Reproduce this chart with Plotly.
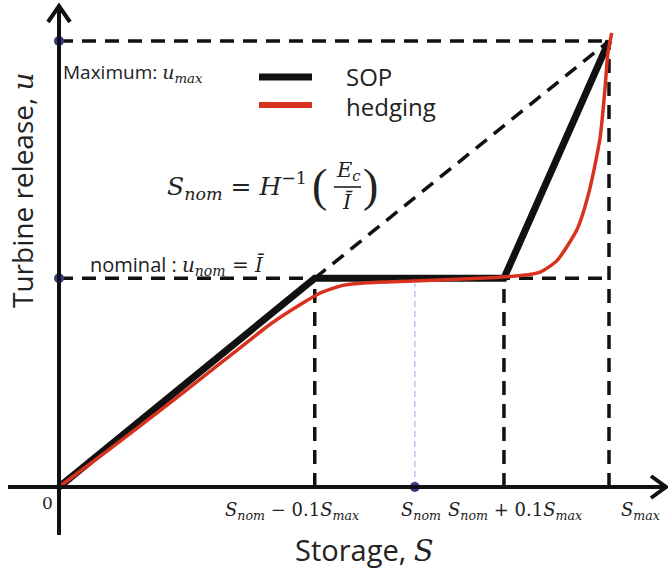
import plotly.graph_objects as go

# ---- data (storage S as fraction of S_max, release u as fraction of u_max) ----
S_max = 1.0
u_max = 1.0
u_nom = 0.468
S_lo = 0.465      # S_nom - 0.1 S_max
S_nom = 0.647
S_hi = 0.809      # S_nom + 0.1 S_max

# standard operating policy (piecewise linear)
sop_S = [0.0, S_lo, S_hi, S_max]
sop_u = [0.0, u_nom, u_nom, u_max]

# hedging policy (smooth curve)
hedge_S = [0.0, 0.10, 0.20, 0.262, 0.324, 0.384, 0.444, 0.475, 0.516, 0.560, 0.644,
           0.784, 0.840, 0.875, 0.905, 0.942, 0.965, 0.984, 0.993, 0.998, 1.005]
hedge_u = [0.0, 0.092, 0.187, 0.247, 0.307, 0.365, 0.413, 0.435, 0.452, 0.458, 0.462,
           0.469, 0.474, 0.482, 0.507, 0.578, 0.668, 0.785, 0.897, 0.973, 1.018]

# highlighted axis points
dot_S = [0.0, 0.0, S_nom]
dot_u = [u_max, u_nom, 0.0]

W, H = 668, 577
X0, Y0 = 59, 487          # origin in pixels
SX, SY = 550, 446         # pixels per unit

xr = [-X0 / SX, (W - X0) / SX]
yr = [-(H - Y0) / SY, Y0 / SY]

SANS = "Open Sans, Lato, sans-serif"
MATH = "DejaVu Serif"
BLACK = "#111111"
RED = "#d8321e"
NAVY = "#383a86"


def P(x, y):
    return dict(x=x / W, y=1 - y / H, xref="paper", yref="paper")


def var(name, s=None):
    body = f"<i>{name}</i>" + (f"<sub><i>{s}</i></sub>" if s else "")
    return f"<span style='font-family:{MATH}'>{body}</span>"


tick_S = [S_lo, S_nom, S_hi, S_max]
tick_labels = [
    var("S", "nom") + " − 0.1" + var("S", "max"),
    var("S", "nom"),
    var("S", "nom") + " + 0.1" + var("S", "max"),
    var("S", "max"),
]
tick_offsets = [-23, 6, 11, 31]   # horizontal label nudges, px

fig = go.Figure()

fig.add_trace(go.Scatter(x=sop_S, y=sop_u, mode="lines",
                         line=dict(color=BLACK, width=7), showlegend=False))
fig.add_trace(go.Scatter(x=hedge_S, y=hedge_u, mode="lines",
                         line=dict(color=RED, width=3.5, shape="spline", smoothing=0.6),
                         showlegend=False))
fig.add_trace(go.Scatter(x=dot_S, y=dot_u, mode="markers",
                         marker=dict(color=NAVY, size=10), showlegend=False,
                         cliponaxis=False))

shapes = []
dash = dict(color=BLACK, width=3.5, dash="14px,9px")


def seg(x0, y0, x1, y1, line, layer="below"):
    shapes.append(dict(type="line", xref="x", yref="y", x0=x0, y0=y0, x1=x1, y1=y1,
                       line=line, layer=layer))


# guide lines
seg(0, u_max, S_max, u_max, dash)
seg(S_max, 0, S_max, u_max, dash)
seg(0, u_nom, S_max, u_nom, dash)
seg(S_lo, 0, S_lo, u_nom, dash)
seg(S_hi, 0, S_hi, u_nom, dash)
seg(S_lo, u_nom, S_max, u_max, dash)
seg(S_nom, 0, S_nom, 0.457, dict(color="#a9b0ec", width=1.2, dash="6px,4px"))

# axes with open arrow heads
axis = dict(color=BLACK, width=4)
seg(0, -48 / SY, 0, 482 / SY, axis, layer="above")
seg(-51 / SX, 0, 608 / SX, 0, axis, layer="above")
shapes.append(dict(type="path", xref="paper", yref="paper",
                   path=f"M {48/W} {1-22/H} L {59/W} {1-6/H} L {70/W} {1-22/H}",
                   line=dict(color=BLACK, width=4), layer="above"))
shapes.append(dict(type="path", xref="paper", yref="paper",
                   path=f"M {651/W} {1-476/H} L {666/W} {1-487/H} L {651/W} {1-498/H}",
                   line=dict(color=BLACK, width=4), layer="above"))

# legend keys
shapes.append(dict(type="line", xref="paper", yref="paper",
                   x0=259 / W, x1=312 / W, y0=1 - 77 / H, y1=1 - 77 / H,
                   line=dict(color=BLACK, width=7)))
shapes.append(dict(type="line", xref="paper", yref="paper",
                   x0=259 / W, x1=312 / W, y0=1 - 105 / H, y1=1 - 105 / H,
                   line=dict(color=RED, width=6)))

# fraction bar
shapes.append(dict(type="line", xref="paper", yref="paper",
                   x0=334 / W, x1=361 / W, y0=1 - 187 / H, y1=1 - 187 / H,
                   line=dict(color=BLACK, width=1.5)))

ann = []


def text(x, y, t, size, family=SANS, xa="center", ya="middle", angle=0):
    a = P(x, y)
    a.update(text=t, showarrow=False, xanchor=xa, yanchor=ya, textangle=angle,
             font=dict(family=family, size=size, color="#222222"))
    ann.append(a)


text(61, 72, "Maximum: " + var("u", "max"), 19, xa="left")
text(88, 265, "nominal : " + var("u", "nom")
     + f"<span style='font-family:{MATH}'> = <i>Ī</i></span>", 20, xa="left")
text(344, 76, "SOP", 24, xa="left")
text(344, 106, "hedging", 24, xa="left")

# formula
text(309, 186, var("S", "nom") + " = <i>H</i><sup>−1</sup>", 25, MATH, xa="right")
text(319, 186, "(", 46, "Liberation Serif")
text(348, 171, var("E", "c"), 21, MATH)
text(347, 202, "<i>Ī</i>", 21, MATH)
text(370, 186, ")", 46, "Liberation Serif")

# axis tick labels
text(47, 503, "0", 17, MATH)
for s, lab, off in zip(tick_S, tick_labels, tick_offsets):
    text(X0 + s * SX + off, 511, lab, 18, MATH)

# axis titles
text(364, 549, "Storage, " + var("S"), 29)
text(22, 190, "Turbine release, " + var("u"), 28, angle=-90)

fig.update_layout(
    width=W, height=H, margin=dict(l=0, r=0, t=0, b=0),
    paper_bgcolor="white", plot_bgcolor="white",
    xaxis=dict(range=xr, visible=False, fixedrange=True),
    yaxis=dict(range=yr, visible=False, fixedrange=True),
    shapes=shapes, annotations=ann, showlegend=False,
)

fig.write_html("out.html")
